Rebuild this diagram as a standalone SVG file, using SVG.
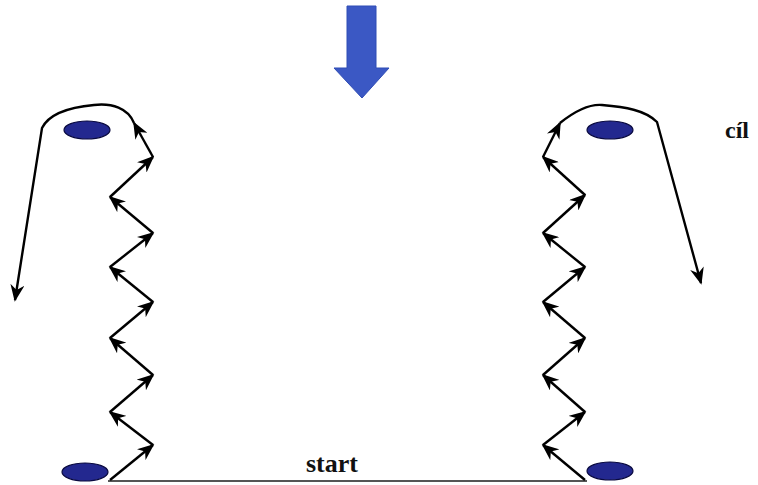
<svg xmlns="http://www.w3.org/2000/svg" width="758" height="485" viewBox="0 0 758 485">
<defs>
<marker id="ah" viewBox="0 0 10 10" refX="9" refY="5" markerWidth="17" markerHeight="14" markerUnits="userSpaceOnUse" orient="auto" preserveAspectRatio="none">
<path d="M0,0 L10,5 L0,10 L3,5 Z" fill="#000"/>
</marker>
<style>
.seg{fill:none;stroke:#000;stroke-width:2.4;marker-end:url(#ah)}
.cone{fill:#23288f;stroke:#0a0a40;stroke-width:1.2}
.lbl{font-family:"Liberation Serif",serif;font-weight:bold;fill:#111}
</style>
</defs>
<rect width="758" height="485" fill="#fff"/>
<g id="arrow-down">
<path d="M347,6 L376,6 L376,68 L389,68 L362,98 L334,68 L347,68 Z" fill="#3b58c4" stroke="#2f4db5" stroke-width="1"/>
</g>
<g id="cone-top-left"><ellipse class="cone" cx="87" cy="130" rx="23" ry="9"/></g>
<g id="cone-bottom-left"><ellipse class="cone" cx="85" cy="472" rx="23" ry="9"/></g>
<g id="cone-top-right"><ellipse class="cone" cx="610" cy="130" rx="23" ry="9"/></g>
<g id="cone-bottom-right"><ellipse class="cone" cx="610" cy="471" rx="23" ry="9"/></g>
<g id="start-line">
<line x1="108" y1="481" x2="587" y2="481" stroke="#555" stroke-width="2.2"/>
<text class="lbl" x="332" y="472" font-size="26" text-anchor="middle">start</text>
</g>
<g id="label-cil">
<text class="lbl" x="737" y="138" font-size="24" text-anchor="middle">cíl</text>
</g>
<g id="connectors">
<path class="seg" d="M110,480 L153,445"/>
<path class="seg" d="M153,445 L110,412"/>
<path class="seg" d="M110,412 L153,375"/>
<path class="seg" d="M153,375 L110,338"/>
<path class="seg" d="M110,338 L153,302"/>
<path class="seg" d="M153,302 L110,267"/>
<path class="seg" d="M110,267 L153,233"/>
<path class="seg" d="M153,233 L110,197"/>
<path class="seg" d="M110,197 L153,157"/>
<path class="seg" d="M153,157 L134,123"/>
<path class="seg" d="M134,123 C128,108 112,103 94,105 C72,107 50,112 42,128 L15,300"/>
<path class="seg" d="M585,480 L543,445"/>
<path class="seg" d="M543,445 L585,412"/>
<path class="seg" d="M585,412 L543,375"/>
<path class="seg" d="M543,375 L585,338"/>
<path class="seg" d="M585,338 L543,302"/>
<path class="seg" d="M543,302 L585,267"/>
<path class="seg" d="M585,267 L543,233"/>
<path class="seg" d="M543,233 L585,195"/>
<path class="seg" d="M585,195 L543,157"/>
<path class="seg" d="M543,157 L560,123"/>
<path class="seg" d="M560,123 C575,111 590,104 602,105 C625,107 645,110 657,122 L701,283"/>
</g>
</svg>
